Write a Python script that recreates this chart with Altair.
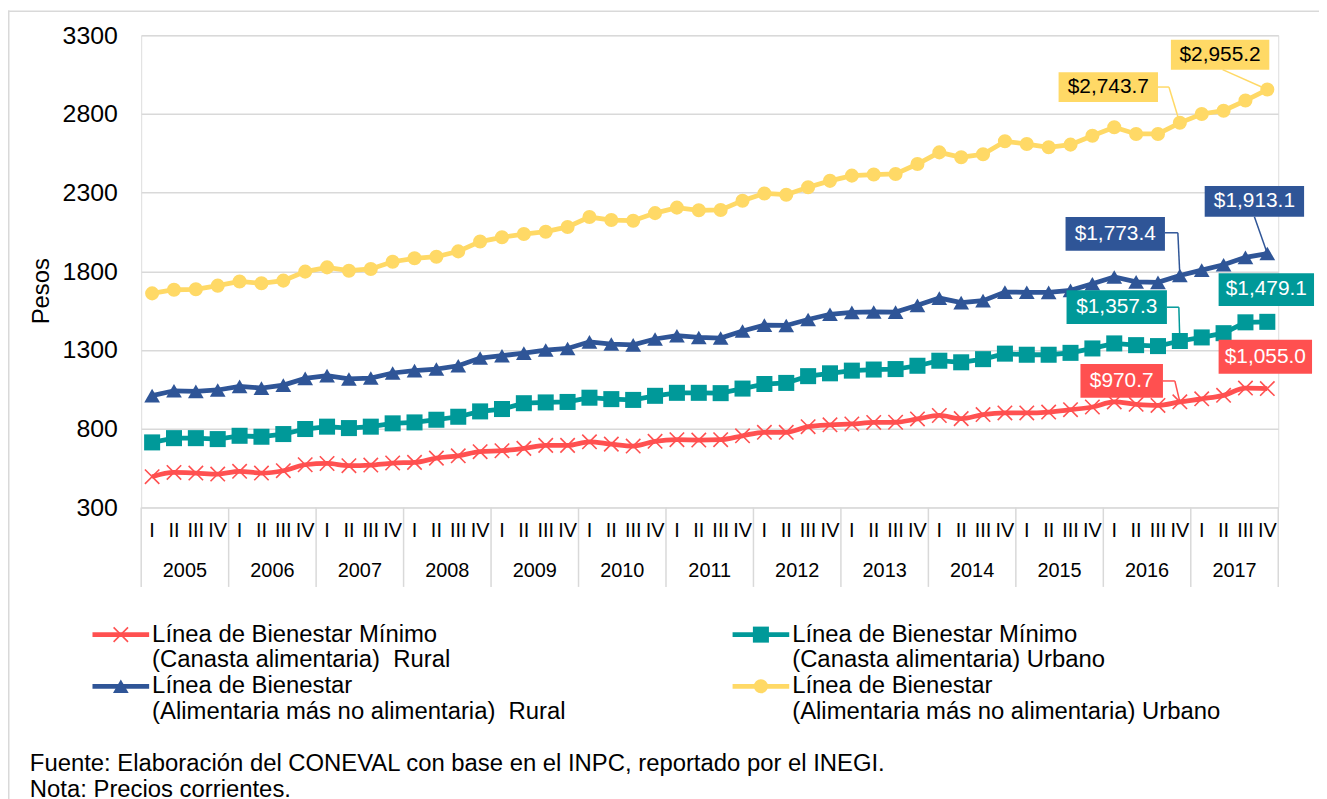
import altair as alt
import pandas as pd

# ---------------- data ----------------
quarter_names = ["I", "II", "III", "IV"]
years = [2005, 2006, 2007, 2008, 2009, 2010, 2011, 2012, 2013, 2014, 2015, 2016, 2017]

rural_min = [495, 522, 518, 512, 529, 518, 533, 571, 579, 565, 569, 582, 586,
             613, 628, 654, 660, 675, 694, 694, 717, 702, 690, 720, 730, 728,
             730, 755, 777, 777, 813, 825, 830, 840, 841, 862, 884, 864, 890,
             900, 900, 906, 921, 938, 970, 955, 948, 970.7, 990, 1012, 1058, 1055.0]

urban_min = [713, 740, 740, 734, 755, 749, 766, 798, 813, 804, 813, 834, 840,
             857, 876, 910, 925, 962, 967, 970, 997, 988, 983, 1009, 1028, 1028,
             1026, 1055, 1084, 1091, 1134, 1152, 1169, 1176, 1179, 1200, 1232, 1222, 1242,
             1277, 1270, 1270, 1282, 1310, 1342, 1331, 1325, 1357.3, 1380, 1407, 1476, 1479.1]

rural_bien = [1010, 1041, 1037, 1046, 1069, 1058, 1077, 1120, 1137, 1116, 1122, 1154, 1169,
              1179, 1200, 1249, 1264, 1280, 1300, 1310, 1352, 1338, 1333, 1370, 1391, 1380,
              1376, 1421, 1458, 1456, 1494, 1527, 1539, 1542, 1541, 1584, 1630, 1601, 1614,
              1668, 1667, 1666, 1679, 1721, 1764, 1733, 1730, 1773.4, 1808, 1842, 1889, 1913.1]

urban_bien = [1660, 1683, 1686, 1709, 1736, 1724, 1741, 1798, 1825, 1804, 1815, 1861, 1883,
              1893, 1927, 1989, 2016, 2037, 2052, 2082, 2145, 2126, 2122, 2170, 2205, 2188,
              2190, 2249, 2295, 2287, 2334, 2375, 2408, 2415, 2419, 2482, 2556, 2525, 2544,
              2626, 2609, 2588, 2605, 2662, 2715, 2673, 2673, 2743.7, 2800, 2821, 2885, 2955.2]

y_ticks = [300, 800, 1300, 1800, 2300, 2800, 3300]

legend_texts = [
    "Línea de Bienestar Mínimo\n(Canasta alimentaria)\u00a0 Rural",
    "Línea de Bienestar Mínimo\n(Canasta alimentaria) Urbano",
    "Línea de Bienestar\n(Alimentaria más no alimentaria)\u00a0 Rural",
    "Línea de Bienestar\n(Alimentaria más no alimentaria) Urbano",
]
footnotes = ["Fuente: Elaboración del CONEVAL con base en el INPC, reportado por el INEGI.",
             "Nota: Precios corrientes."]

# ---------------- layout ----------------
FONT = "Liberation Sans"
W, H = 1144, 475
PADL, PADT = 134, 25
TOTW, TOTH = 1319, 800

RED, TEAL, BLUE, YELLOW = "#FF5050", "#009999", "#2F5597", "#FFD966"
GRID = "#D9D9D9"

n = len(rural_min)
idx = list(range(n))

x_scale = alt.Scale(domain=[-0.5, n - 0.5], nice=False, zero=False)
y_scale = alt.Scale(domain=[300, 3300], nice=False, zero=False)

X = alt.X("idx:Q", scale=x_scale, axis=None)
Y = alt.Y("value:Q", scale=y_scale,
          axis=alt.Axis(values=y_ticks, grid=True, gridColor=GRID, gridWidth=1.5,
                        domain=False, ticks=False, labelFont=FONT, labelFontSize=25,
                        labelColor="#000000", labelPadding=24, format="d",
                        title="Pesos", titleFont=FONT, titleFontSize=24,
                        titleFontWeight="normal", titleColor="#000000",
                        titleAngle=-90, titleAlign="center", titleBaseline="middle",
                        titleX=-100, titleY=257))

dummy = alt.Data(values=[{}])

layers = []

# category axis: quarter labels, year labels, separators
q_df = pd.DataFrame({"idx": idx, "q": [quarter_names[i % 4] for i in idx]})
layers.append(alt.Chart(q_df).mark_text(font=FONT, fontSize=20, color="#000000",
                                        baseline="middle").encode(
    x=X, y=alt.value(H + 24), text="q:N"))

yr_df = pd.DataFrame({"idx": [4 * k + 1.5 for k in range(len(years))],
                      "year": [str(y) for y in years]})
layers.append(alt.Chart(yr_df).mark_text(font=FONT, fontSize=20, color="#000000",
                                         baseline="middle").encode(
    x=X, y=alt.value(H + 64), text="year:N"))

sep_df = pd.DataFrame({"idx": [4 * k - 0.5 for k in range(len(years) + 1)]})
layers.append(alt.Chart(sep_df).mark_rule(color=GRID, strokeWidth=1.5).encode(
    x=X, y=alt.value(H), y2=alt.value(H + 80)))

# series
X_SHAPE = "M-1,-1L1,1M-1,1L1,-1"
series = [
    ("rural_min", rural_min, RED, X_SHAPE, False, 210, "monotone"),
    ("urban_min", urban_min, TEAL, "square", True, 260, "linear"),
    ("rural_bien", rural_bien, BLUE, "triangle-up", True, 250, "linear"),
    ("urban_bien", urban_bien, YELLOW, "circle", True, 200, "linear"),
]
for name, vals, col, shape, filled, size, interp in series:
    df = pd.DataFrame({"idx": idx, "value": vals})
    layers.append(alt.Chart(df).mark_line(color=col, strokeWidth=4.8,
                                          interpolate=interp).encode(x=X, y=Y))
    if filled:
        pm = alt.Chart(df).mark_point(shape=shape, filled=True, size=size, color=col,
                                      opacity=1)
    else:
        pm = alt.Chart(df).mark_point(shape=shape, filled=False, size=size, color=col,
                                      strokeWidth=1.6, opacity=1)
    layers.append(pm.encode(x=X, y=Y))

# data labels (boxes with leader lines)
labels = [
    # values, index, box color, text color, box (x0,x1,y0,y1), leader segments
    (urban_bien, 51, YELLOW, "#000000", (-97, 2, -50, -20), [(-45, -20, 0, 0)]),
    (urban_bien, 47, YELLOW, "#000000", (-122, -22, -51, -21),
     [(-22, -36, -11, -36), (-11, -36, -1, -3)]),
    (rural_bien, 51, BLUE, "#FFFFFF", (-63, 37, -68, -37), [(-13, -37, 0, 0)]),
    (rural_bien, 47, BLUE, "#FFFFFF", (-115, -15, -59, -25),
     [(-15, -43, -2, -43), (-2, -43, 0, 0)]),
    (urban_min, 51, TEAL, "#FFFFFF", (-49, 47, -49, -16), []),
    (urban_min, 47, TEAL, "#FFFFFF", (-114, -13, -51, -17),
     [(-13, -34, -1, -34), (-1, -34, 0, 0)]),
    (rural_min, 51, RED, "#FFFFFF", (-49, 45, -49, -15), []),
    (rural_min, 47, RED, "#FFFFFF", (-100, -17, -38, -4),
     [(-17, -21, -5, -21), (-5, -21, 0, 0)]),
]
for vals, i, col, tcol, (x0, x1, y0, y1), leaders in labels:
    v = vals[i]
    df = pd.DataFrame({"idx": [i], "value": [v], "txt": ["${:,.1f}".format(v)]})
    base = alt.Chart(df)
    for (ax, ay, bx, by) in leaders:
        layers.append(base.mark_rule(color=col, strokeWidth=1.5, xOffset=ax, yOffset=ay,
                                     x2Offset=bx, y2Offset=by).encode(
            x=X, x2="idx:Q", y=Y, y2="value:Q"))
    layers.append(base.mark_rect(color=col, opacity=1, xOffset=x0, x2Offset=x1,
                                 yOffset=y0, y2Offset=y1).encode(
        x=X, x2="idx:Q", y=Y, y2="value:Q"))
    layers.append(base.mark_text(font=FONT, fontSize=21, color=tcol, align="center",
                                 baseline="middle", dx=(x0 + x1) / 2,
                                 dy=(y0 + y1) / 2).encode(x=X, y=Y, text="txt:N"))

# legend (manual, Excel style)
leg = [
    (RED, X_SHAPE, False, 210, -49, 603),
    (TEAL, "square", True, 260, 595, 603),
    (BLUE, "triangle-up", True, 250, -49, 655),
    (YELLOW, "circle", True, 200, 595, 655),
]
for (col, shape, filled, size, lx, ly), txt in zip(leg, legend_texts):
    layers.append(alt.Chart(dummy).mark_rule(color=col, strokeWidth=4.8).encode(
        x=alt.value(lx), x2=alt.value(lx + 57), y=alt.value(ly)))
    if filled:
        pm = alt.Chart(dummy).mark_point(shape=shape, filled=True, size=size, color=col,
                                         opacity=1)
    else:
        pm = alt.Chart(dummy).mark_point(shape=shape, filled=False, size=size, color=col,
                                         strokeWidth=1.6, opacity=1)
    layers.append(pm.encode(x=alt.value(lx + 28.5), y=alt.value(ly)))
    layers.append(alt.Chart(dummy).mark_text(font=FONT, fontSize=24, color="#000000",
                                             align="left", baseline="middle",
                                             lineBreak="\n", lineHeight=26).encode(
        x=alt.value(lx + 60), y=alt.value(ly), text=alt.value(txt)))

# footnotes
for k, t in enumerate(footnotes):
    layers.append(alt.Chart(dummy).mark_text(font=FONT, fontSize=24, color="#000000",
                                             align="left", baseline="middle").encode(
        x=alt.value(-112), y=alt.value(733 + 26 * k), text=alt.value(t)))

# outer chart frame (top and left)
layers.append(alt.Chart(dummy).mark_rule(color=GRID, strokeWidth=1.5).encode(
    x=alt.value(-PADL), x2=alt.value(TOTW - PADL), y=alt.value(-PADT + 0.75)))
layers.append(alt.Chart(dummy).mark_rule(color=GRID, strokeWidth=1.5).encode(
    x=alt.value(-PADL + 0.75), y=alt.value(-PADT), y2=alt.value(TOTH - PADT)))

chart = alt.layer(*layers).properties(
    width=W, height=H,
    autosize=alt.AutoSizeParams(type="none"),
    padding={"left": PADL, "top": PADT, "right": TOTW - PADL - W,
             "bottom": TOTH - PADT - H},
).configure_view(stroke=None).configure(background="#FFFFFF")

chart.save("out.html", embed_options={"renderer": "svg", "actions": False})
